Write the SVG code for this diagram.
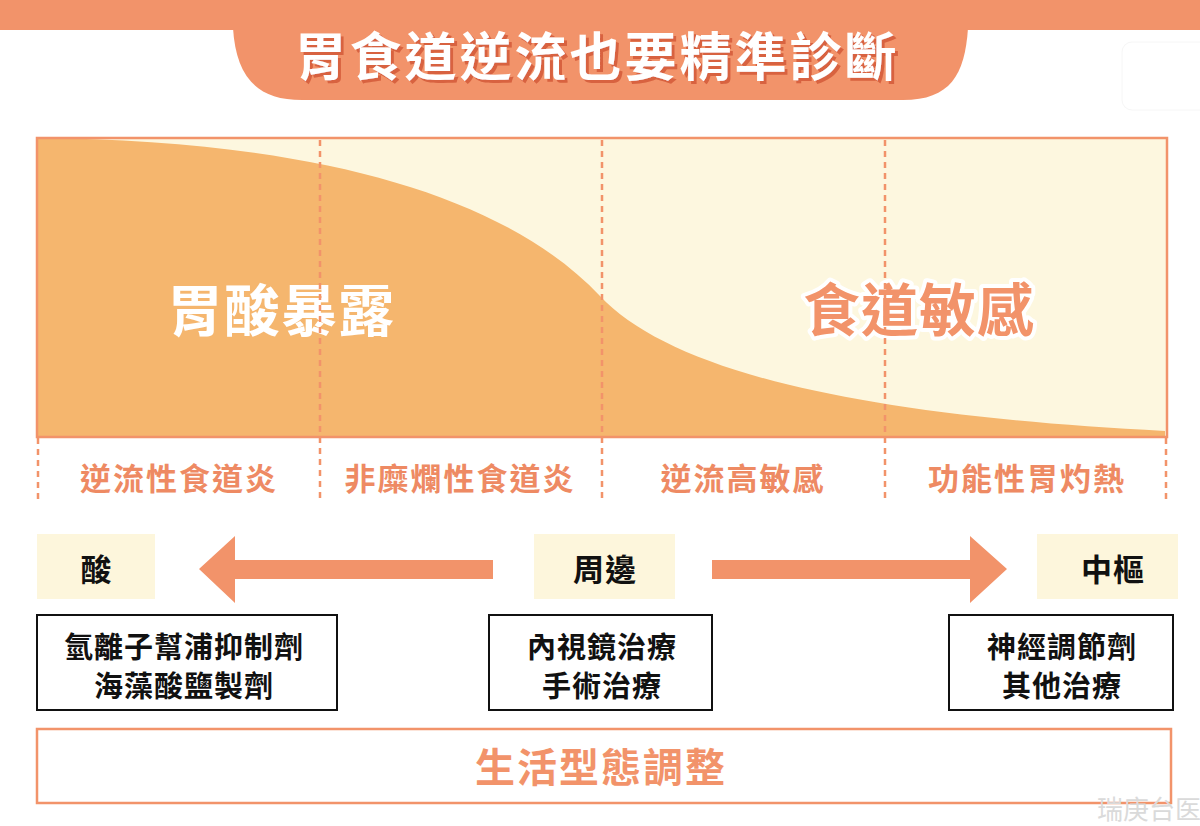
<svg xmlns="http://www.w3.org/2000/svg" width="1200" height="826" viewBox="0 0 1200 826">
<defs>
<style>
.cjk{font-family:"Noto Sans CJK TC","Noto Sans CJK SC",sans-serif;font-weight:700;text-anchor:middle;dominant-baseline:central}
.lbl{font-size:31px;fill:#EE8A63;letter-spacing:2px}
.tx{font-size:29px;fill:#111;letter-spacing:1px}
.dash{stroke:#F2936A;stroke-width:2.5;stroke-dasharray:6 5;fill:none}
.cream{fill:#FDF6DC}
.arrow{fill:#F2936A}
.tbox{fill:#fff;stroke:#111;stroke-width:2}
</style>
<filter id="shadow" x="-5%" y="-20%" width="110%" height="140%">
<feOffset in="SourceAlpha" dx="3" dy="3" result="off"/>
<feFlood flood-color="#D8623F"/>
<feComposite in2="off" operator="in" result="sh"/>
<feMerge><feMergeNode in="sh"/><feMergeNode in="SourceGraphic"/></feMerge>
</filter>
</defs>
<rect width="1200" height="826" fill="#fff"/>
<g id="header">
<rect x="0" y="0" width="1200" height="30" fill="#F2936A"/>
<path d="M233,28 C236,75 255,100 302,100 L903,100 C950,100 965,75 968,28 Z" fill="#F2936A"/>
<text class="cjk" x="597" y="53" font-size="52" fill="#fff" letter-spacing="3" filter="url(#shadow)">胃食道逆流也要精準診斷</text>
<rect x="1122" y="42" width="90" height="68" rx="10" fill="#fff" stroke="#f6f6f6" stroke-width="1"/>
</g>
<g id="chart">
<rect x="37" y="138" width="1130" height="299" fill="#FDF7DF"/>
<path d="M37,138 C300,140 500,190 600,296 C670,370 850,415 1165,431 L1165,437 L37,437 Z" fill="#F5B66E"/>
<rect x="37" y="138" width="1130" height="299" fill="none" stroke="#F2936A" stroke-width="2.5"/>
<text class="cjk" x="281" y="306" font-size="56" fill="#fff" letter-spacing="1">胃酸暴露</text>
<text class="cjk" x="919" y="306" font-size="57" fill="#F2936A" stroke="#fff" stroke-width="8" stroke-linejoin="round" paint-order="stroke" letter-spacing="1">食道敏感</text>
</g>
<g id="connectors">
<line class="dash" x1="320" y1="140" x2="320" y2="502"/>
<line class="dash" x1="602" y1="140" x2="602" y2="502"/>
<line class="dash" x1="885" y1="140" x2="885" y2="502"/>
<line class="dash" x1="38" y1="438" x2="38" y2="502"/>
<line class="dash" x1="1166" y1="438" x2="1166" y2="502"/>
<path class="arrow" d="M493,560 L235,560 L235,536 L199,569 L235,603 L235,579 L493,579 Z"/>
<path class="arrow" d="M712,560 L970,560 L970,536 L1007,569 L970,603 L970,579 L712,579 Z"/>
</g>
<g id="labels">
<text class="cjk lbl" x="179" y="476">逆流性食道炎</text>
<text class="cjk lbl" x="460" y="476">非糜爛性食道炎</text>
<text class="cjk lbl" x="743" y="476">逆流高敏感</text>
<text class="cjk lbl" x="1027" y="476">功能性胃灼熱</text>
</g>
<g id="acid">
<rect class="cream" x="37" y="534" width="118" height="65"/>
<text class="cjk" x="96" y="567" font-size="31" fill="#111">酸</text>
</g>
<g id="peripheral">
<rect class="cream" x="534" y="534" width="141" height="65"/>
<text class="cjk" x="605" y="567" font-size="31" fill="#111" letter-spacing="1">周邊</text>
</g>
<g id="central">
<rect class="cream" x="1037" y="534" width="141" height="65"/>
<text class="cjk" x="1113" y="567" font-size="31" fill="#111" letter-spacing="1">中樞</text>
</g>
<g id="treat-acid">
<rect class="tbox" x="37" y="615" width="300" height="95"/>
<text class="cjk tx" x="184" y="645">氫離子幫浦抑制劑</text>
<text class="cjk tx" x="184" y="684">海藻酸鹽製劑</text>
</g>
<g id="treat-peripheral">
<rect class="tbox" x="489" y="615" width="223" height="95"/>
<text class="cjk tx" x="602" y="645">內視鏡治療</text>
<text class="cjk tx" x="602" y="684">手術治療</text>
</g>
<g id="treat-central">
<rect class="tbox" x="949" y="615" width="224" height="95"/>
<text class="cjk tx" x="1062" y="645">神經調節劑</text>
<text class="cjk tx" x="1062" y="684">其他治療</text>
</g>
<g id="lifestyle">
<rect x="37" y="729" width="1134" height="74" fill="#fff" stroke="#F2936A" stroke-width="2.5"/>
<text class="cjk" x="601" y="765" font-size="40" fill="#F2936A" letter-spacing="2">生活型態調整</text>
</g>
<text x="1097" y="819" font-family="Noto Sans CJK SC, sans-serif" font-size="26" fill="#DADADA">瑞庚台医</text>
</svg>
